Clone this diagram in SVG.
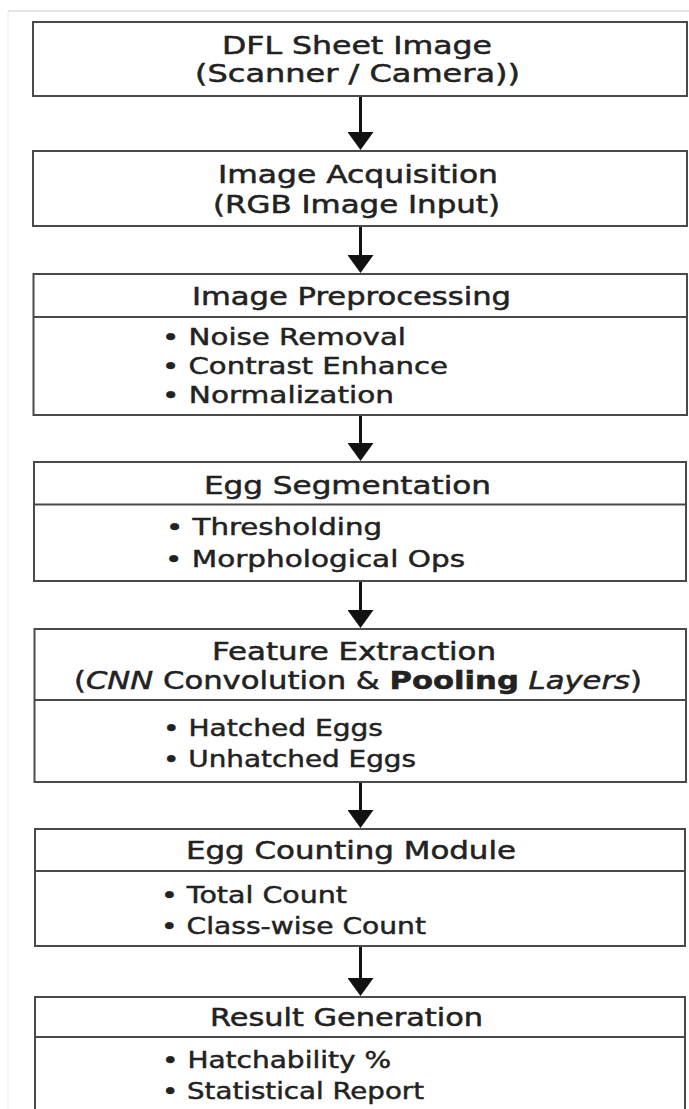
<svg xmlns="http://www.w3.org/2000/svg" width="689" height="1109" viewBox="0 0 689 1109">
<style>
.box{fill:#fff;stroke:#4a4a4a;stroke-width:2}
.div{stroke:#4a4a4a;stroke-width:2}
.t{font-family:"DejaVu Sans","Liberation Sans",sans-serif;font-size:24px;fill:#222;stroke:#222;stroke-width:0.5}
.b{font-family:"DejaVu Sans","Liberation Sans",sans-serif;font-size:22.5px;fill:#222;stroke:#222;stroke-width:0.45}
.arr{stroke:#111;stroke-width:3;fill:none}
.art{stroke:#dcdcdc;stroke-width:1.5;fill:none}
</style>
<defs>
<marker id="ah" viewBox="0 0 18 26" refX="0" refY="13" markerWidth="18" markerHeight="26" markerUnits="userSpaceOnUse" orient="auto">
<path d="M0,0 L18,13 L0,26 z" fill="#111"/>
</marker>
</defs>
<rect width="689" height="1109" fill="#fff"/>
<g id="artifacts">
<line class="art" x1="8" y1="11" x2="689" y2="11"/>
<line x1="8" y1="11" x2="8" y2="1109" stroke="#f0f0f0" stroke-width="1.5"/>
</g>
<g id="connectors">
<line class="arr" x1="360.5" y1="97" x2="360.5" y2="132" marker-end="url(#ah)"/>
<line class="arr" x1="360.5" y1="227" x2="360.5" y2="255" marker-end="url(#ah)"/>
<line class="arr" x1="360.5" y1="416" x2="360.5" y2="443" marker-end="url(#ah)"/>
<line class="arr" x1="360.5" y1="582" x2="360.5" y2="610" marker-end="url(#ah)"/>
<line class="arr" x1="360.5" y1="783" x2="360.5" y2="810" marker-end="url(#ah)"/>
<line class="arr" x1="360.5" y1="947" x2="360.5" y2="978" marker-end="url(#ah)"/>
</g>
<g id="n1">
<rect class="box" x="33" y="22" width="654" height="74"/>
<text class="t" x="222" y="54" textLength="270" lengthAdjust="spacingAndGlyphs">DFL Sheet Image</text>
<text class="t" x="195" y="82" textLength="325" lengthAdjust="spacingAndGlyphs">(Scanner / Camera))</text>
</g>
<g id="n2">
<rect class="box" x="33" y="151" width="654" height="75"/>
<text class="t" x="218" y="182.5" textLength="280" lengthAdjust="spacingAndGlyphs">Image Acquisition</text>
<text class="t" x="213" y="213" textLength="287" lengthAdjust="spacingAndGlyphs">(RGB Image Input)</text>
</g>
<g id="n3">
<rect class="box" x="33.5" y="274" width="653.5" height="141"/>
<line class="div" x1="33.5" y1="317" x2="687" y2="317"/>
<text class="t" x="192" y="304.5" textLength="319" lengthAdjust="spacingAndGlyphs">Image Preprocessing</text>
<text class="b" x="162" y="344.5" textLength="244" lengthAdjust="spacingAndGlyphs">• Noise Removal</text>
<text class="b" x="162" y="373.5" textLength="286" lengthAdjust="spacingAndGlyphs">• Contrast Enhance</text>
<text class="b" x="162" y="402.5" textLength="232" lengthAdjust="spacingAndGlyphs">• Normalization</text>
</g>
<g id="n4">
<rect class="box" x="34" y="462" width="652" height="119"/>
<line class="div" x1="34" y1="504.5" x2="686" y2="504.5"/>
<text class="t" x="204" y="493.5" textLength="287" lengthAdjust="spacingAndGlyphs">Egg Segmentation</text>
<text class="b" x="166" y="534.5" textLength="216" lengthAdjust="spacingAndGlyphs">• Thresholding</text>
<text class="b" x="165" y="566.5" textLength="300" lengthAdjust="spacingAndGlyphs">• Morphological Ops</text>
</g>
<g id="n5">
<rect class="box" x="34.5" y="629" width="651.5" height="153"/>
<line class="div" x1="34.5" y1="700" x2="686" y2="700"/>
<text class="t" x="212" y="659.5" textLength="284" lengthAdjust="spacingAndGlyphs">Feature Extraction</text>
<text class="t" x="74" y="688.5" textLength="568" lengthAdjust="spacingAndGlyphs">(<tspan font-style="italic">CNN</tspan> Convolution &amp; <tspan font-weight="bold">Pooling</tspan>  <tspan font-style="italic">Layers</tspan>)</text>
<text class="b" x="163" y="735.5" textLength="220" lengthAdjust="spacingAndGlyphs">• Hatched Eggs</text>
<text class="b" x="163" y="766.5" textLength="253" lengthAdjust="spacingAndGlyphs">• Unhatched Eggs</text>
</g>
<g id="n6">
<rect class="box" x="35" y="829" width="650" height="117"/>
<line class="div" x1="35" y1="871" x2="685" y2="871"/>
<text class="t" x="186" y="858.5" textLength="330" lengthAdjust="spacingAndGlyphs">Egg Counting Module</text>
<text class="b" x="161" y="902.5" textLength="186" lengthAdjust="spacingAndGlyphs">• Total Count</text>
<text class="b" x="161" y="933.5" textLength="265" lengthAdjust="spacingAndGlyphs">• Class-wise Count</text>
</g>
<g id="n7">
<rect class="box" x="35" y="997" width="650" height="130"/>
<line class="div" x1="35" y1="1037" x2="685" y2="1037"/>
<text class="t" x="210" y="1025.5" textLength="273" lengthAdjust="spacingAndGlyphs">Result Generation</text>
<text class="b" x="162" y="1067.5" textLength="229" lengthAdjust="spacingAndGlyphs">• Hatchability %</text>
<text class="b" x="162" y="1098.5" textLength="262" lengthAdjust="spacingAndGlyphs">• Statistical Report</text>
</g>
</svg>
